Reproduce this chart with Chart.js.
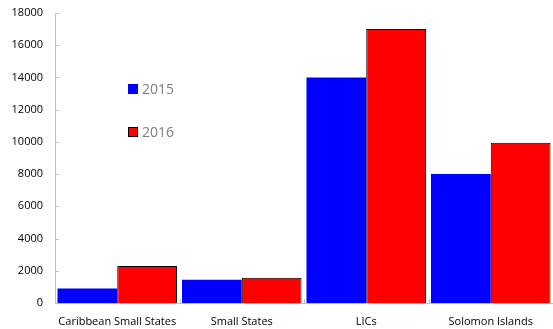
<!DOCTYPE html>
<html>
<head>
<meta charset="utf-8">
<script src="https://cdn.jsdelivr.net/npm/chart.js@4/dist/chart.umd.min.js"></script>
<style>
  html, body { margin: 0; padding: 0; background: #fff; }
  #wrap { width: 553px; height: 329px; position: relative; }
</style>
</head>
<body>
<div id="wrap"><canvas id="grafica"></canvas></div>
<script>
// datos
const categorias = ['Caribbean Small States', 'Small States', 'LICs', 'Solomon Islands'];
const valores2015 = [900, 1450, 14000, 8000];
const valores2016 = [2300, 1560, 17000, 9950];
const etiquetasSerie = ['2015', '2016'];
const ticksY = [0, 2000, 4000, 6000, 8000, 10000, 12000, 14000, 16000, 18000];

const fuente = '"Open Sans", "Noto Sans", sans-serif';
const gris = '#bfbfbf';

// marcas de eje hacia adentro + leyenda dentro del area
const extras = {
    id: 'extras',
    afterDraw(chart) {
        const ctx = chart.ctx;
        const x = chart.scales.x;
        const y = chart.scales.y;
        ctx.save();
        ctx.strokeStyle = gris;
        ctx.lineWidth = 1;
        ticksY.forEach(v => {
            const py = Math.round(y.getPixelForValue(v)) + 0.5;
            ctx.beginPath();
            ctx.moveTo(x.left, py);
            ctx.lineTo(x.left + 4, py);
            ctx.stroke();
        });
        for (let i = 1; i < categorias.length; i++) {
            const px = Math.round((x.getPixelForValue(i - 1) + x.getPixelForValue(i)) / 2) + 0.5;
            ctx.beginPath();
            ctx.moveTo(px, y.bottom);
            ctx.lineTo(px, y.bottom - 4);
            ctx.stroke();
        }
        // leyenda
        const posLeyenda = [[128, 89], [128, 132]];
        chart.data.datasets.forEach((ds, i) => {
            const [lx, ly] = posLeyenda[i];
            ctx.fillStyle = ds.backgroundColor;
            ctx.fillRect(lx, ly - 5, 10, 10);
            if (ds.borderWidth) {
                ctx.strokeStyle = '#000';
                ctx.strokeRect(lx + 0.5, ly - 4.5, 9, 9);
            }
            ctx.fillStyle = '#7f7f7f';
            ctx.font = '14px ' + fuente;
            ctx.textBaseline = 'middle';
            ctx.textAlign = 'left';
            ctx.fillText(ds.label, lx + 14, ly + 1);
        });
        ctx.restore();
    }
};

new Chart(document.getElementById('grafica'), {
    type: 'bar',
    data: {
        labels: categorias,
        datasets: [
            {
                label: etiquetasSerie[0],
                data: valores2015,
                backgroundColor: '#0000ff',
                borderWidth: 0
            },
            {
                label: etiquetasSerie[1],
                data: valores2016,
                backgroundColor: '#ff0000',
                borderColor: '#000000',
                borderWidth: 1
            }
        ]
    },
    options: {
        responsive: true,
        maintainAspectRatio: false,
        animation: false,
        layout: { padding: { top: 13, right: 0, bottom: 0, left: 0 } },
        plugins: {
            legend: { display: false },
            tooltip: { enabled: false }
        },
        datasets: {
            bar: { categoryPercentage: 0.96, barPercentage: 1.0 }
        },
        scales: {
            x: {
                grid: { display: false, drawTicks: false },
                border: { display: true, color: gris, width: 1 },
                afterFit: axis => { axis.height = 26; },
                ticks: {
                    padding: 12,
                    color: '#000',
                    font: { family: fuente, size: 11 },
                    maxRotation: 0,
                    autoSkip: false
                }
            },
            y: {
                min: 0,
                max: 18000,
                afterBuildTicks: axis => { axis.ticks = ticksY.map(v => ({ value: v })); },
                grid: { display: false, drawTicks: false },
                border: { display: true, color: gris, width: 1 },
                afterFit: axis => {
                    axis.width = 55;
                    axis.paddingTop = 0;
                    axis.paddingBottom = 0;
                },
                ticks: {
                    padding: 12,
                    color: '#000',
                    font: { family: fuente, size: 11 },
                    callback: v => String(v)
                }
            }
        }
    },
    plugins: [extras]
});
</script>
</body>
</html>
